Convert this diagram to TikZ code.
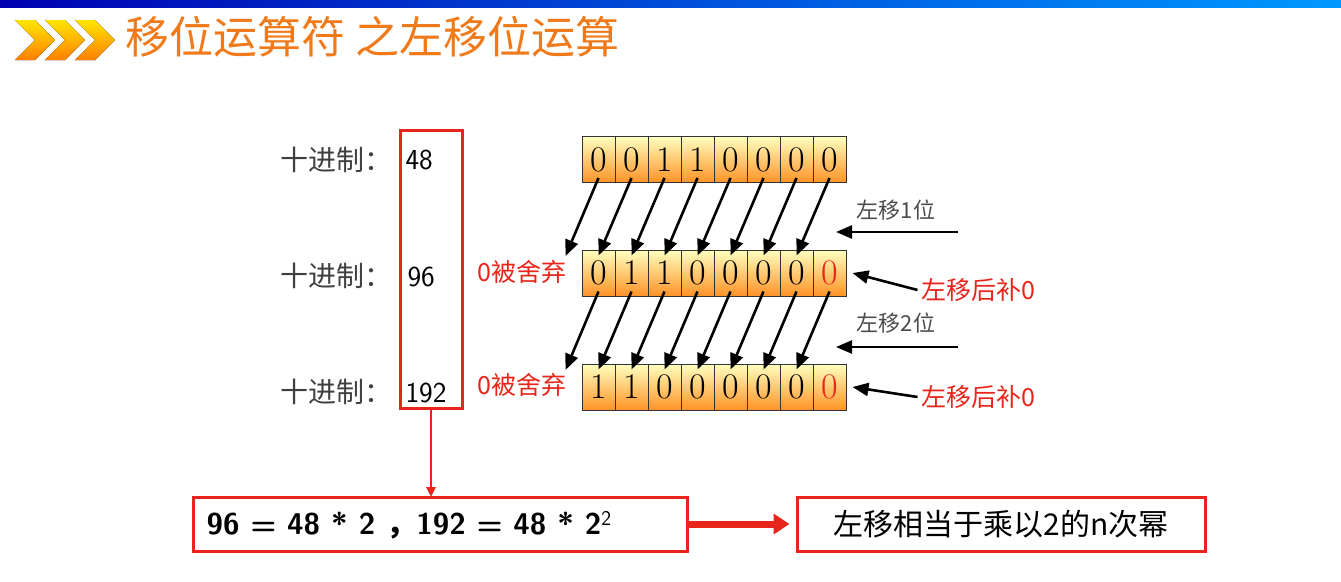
\documentclass[tikz,border=0pt]{standalone}
\usepackage{fontspec}
\newfontfamily\cjk{Noto Sans CJK SC}
\usetikzlibrary{arrows.meta}
\definecolor{tred}{HTML}{E8251B}
\definecolor{torange}{HTML}{F07A1A}
\begin{document}
\begin{tikzpicture}[x=1pt,y=-1pt,
 cell/.style={draw=black!80,line width=1pt,minimum width=33pt,minimum height=46pt,inner sep=0pt,top color=yellow!25,bottom color=orange!85,font=\fontsize{36}{36}\selectfont},
 sh/.style={-{Triangle[length=16pt,width=13pt]},line width=2.6pt},
 lab/.style={font=\cjk\fontsize{22}{22}\selectfont},
 rlab/.style={font=\cjk\fontsize{25}{25}\selectfont,text=tred},
 dec/.style={font=\cjk\fontsize{28}{28}\selectfont,text=black!75},
 num/.style={font=\sffamily\fontsize{29}{29}\selectfont,anchor=west},
 rbox/.style={draw=tred,line width=3pt}]
\useasboundingbox (0,0) rectangle (1341,581);
\shade[left color=blue!70!black,right color=cyan!60!blue] (0,0) rectangle (1341,7);
\foreach \i in {0,1,2}{
 \fill[top color=yellow!80!orange,bottom color=orange] ({15+30*\i},20) -- ({35+30*\i},20) -- ({55+30*\i},40) -- ({35+30*\i},60) -- ({15+30*\i},60) -- ({35+30*\i},40) -- cycle;}
\node[anchor=west,text=torange,font=\cjk\fontsize{44}{44}\selectfont] (title) at (122,37) {移位运算符 之左移位运算};
\foreach [count=\k from 0] \b in {0,0,1,1,0,0,0,0}{\node[cell] (a\k) at ({598.5+33*\k},159.5) {\b};}
\foreach [count=\k from 0] \b in {0,1,1,0,0,0,0}{\node[cell] (b\k) at ({598.5+33*\k},273) {\b};}
\node[cell,text=tred] (b7) at ({598.5+33*7},273) {0};
\foreach [count=\k from 0] \b in {1,1,0,0,0,0,0}{\node[cell] (c\k) at ({598.5+33*\k},387) {\b};}
\node[cell,text=tred] (c7) at ({598.5+33*7},387) {0};
\coordinate (bm) at (565.5,250); \coordinate (cm) at (565.5,364);
\draw[sh] ([yshift=5pt]a0.south) -- ([yshift=-6pt]bm);
\draw[sh] ([yshift=5pt]b0.south) -- ([yshift=-6pt]cm);
\foreach \k [evaluate=\k as \j using int(\k-1)] in {1,...,7}{
 \draw[sh] ([yshift=5pt]a\k.south) -- ([yshift=-6pt]b\j.north);
 \draw[sh] ([yshift=5pt]b\k.south) -- ([yshift=-6pt]c\j.north);}
\node[lab,text=black!70] (l1) at (896,210) {左移1位};
\node[lab,text=black!70] (l2) at (896,323) {左移2位};
\coordinate (r1) at (958,232); \coordinate (r1e) at (836,232);
\coordinate (r2) at (958,347); \coordinate (r2e) at (836,347);
\draw[sh] (r1) -- (r1e); \draw[sh] (r2) -- (r2e);
\node[rlab] (p1) at (978,290) {左移后补0};
\node[rlab] (p2) at (978,397) {左移后补0};
\draw[sh] (p1.west) -- ([xshift=6pt]b7.east);
\draw[sh] (p2.west) -- ([xshift=6pt]c7.east);
\node[rlab] (d1) at (522,272) {0被舍弃};
\node[rlab] (d2) at (522,385) {0被舍弃};
\node[dec] (t1) at (336,160) {十进制：};
\node[dec] (t2) at (336,276) {十进制：};
\node[dec] (t3) at (336,392) {十进制：};
\node[num] (n1) at (402,160) {48};
\node[num] (n2) at (404,277) {96};
\node[num] (n3) at (402,393) {192};
\node[rbox,minimum width=62pt,minimum height=278pt,inner sep=0pt] (col) at (431,269) {};
\node[rbox,minimum width=494pt,minimum height=54pt] (eq) at (440,524) {};
\node[anchor=west,font=\sffamily\bfseries\fontsize{30}{30}\selectfont] (eqt) at (203,525) {96 = 48 * 2 {\cjk ，}192 = 48 * 2\textsuperscript{\mdseries 2}};
\node[rbox,minimum width=408pt,minimum height=54pt,font=\cjk\fontsize{30}{30}\selectfont] (res) at (1001,524) {左移相当于乘以2的n次幂};
\coordinate (colb) at (431,408);
\coordinate (eqt2) at (431,497);
\draw[tred,line width=2.5pt,-{Triangle[length=10pt,width=9pt]}] (colb) -- (eqt2);
\draw[tred,line width=7pt,-{Triangle[length=16pt,width=20pt]}] (eq.east) -- ([xshift=-6pt]res.west);
\end{tikzpicture}
\end{document}
